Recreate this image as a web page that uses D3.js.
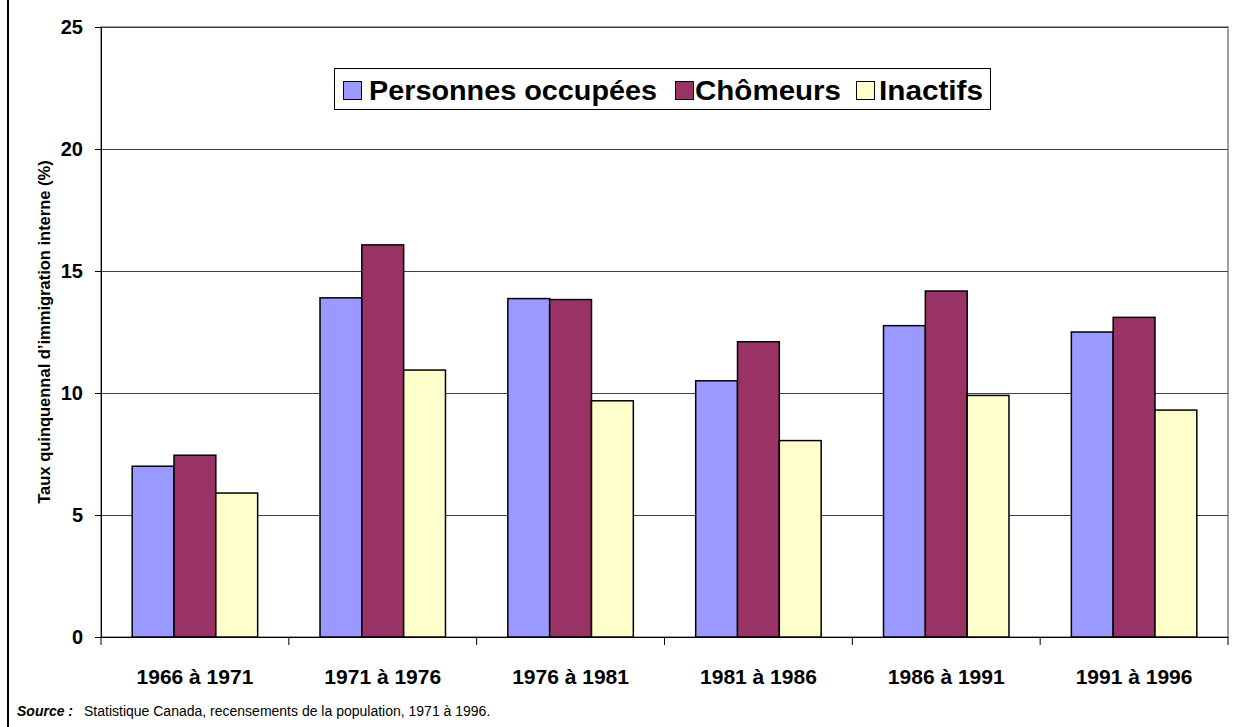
<!DOCTYPE html>
<html>
<meta charset="utf-8">
<head>
    <script src="https://cdnjs.cloudflare.com/ajax/libs/d3/7.8.5/d3.min.js"></script>
</head>
<style>
body {
    margin: 0;
    background: white;
    font-family: "Liberation Sans", Arial, sans-serif;
}
.grid line {
    stroke: #404040;
    stroke-width: 1px;
}
.axis .domain, .axis .tick line {
    stroke: #000;
    stroke-width: 1px;
}
.axis .tick text {
    font-size: 20px;
    font-weight: bold;
    fill: #000;
}
.xaxis .tick text {
    font-size: 21px;
}
.bar {
    stroke: #000;
    stroke-width: 1.5px;
}
</style>

<body>
    <svg id="canvas"></svg>
<script>
// periods (x categories)
var periods = ["1966 à 1971", "1971 à 1976", "1976 à 1981", "1981 à 1986", "1986 à 1991", "1991 à 1996"];
// series names, as in the legend
var seriesNames = ["Personnes occupées", "Chômeurs", "Inactifs"];
// values (%)
var occupees = [7.0, 13.9, 13.87, 10.5, 12.76, 12.5];
var chomeurs = [7.45, 16.07, 13.83, 12.1, 14.18, 13.1];
var inactifs = [5.9, 10.94, 9.68, 8.05, 9.9, 9.3];
var yTicks = [0, 5, 10, 15, 20, 25];

var seriesValues = [occupees, chomeurs, inactifs];
var colors = ["#9999FF", "#993366", "#FFFFCC"];

const W = 1238, H = 727;
const plot = {left: 101, right: 1228, top: 27, bottom: 637};

const svg = d3.select('#canvas')
    .attr('width', W)
    .attr('height', H);

// outer frame (only its left edge falls inside the picture)
svg.append('rect')
    .attr('x', 8).attr('y', -20)
    .attr('width', W + 40).attr('height', H + 40)
    .attr('fill', 'white')
    .attr('stroke', '#000')
    .attr('stroke-width', 2);

// scales
const x0 = d3.scaleBand()
    .domain(periods)
    .range([plot.left, plot.right]);
const x1 = d3.scaleBand()
    .domain(seriesNames)
    .range([x0.bandwidth() * 0.166, x0.bandwidth() * 0.834]);
const y = d3.scaleLinear()
    .domain([0, 25])
    .range([plot.bottom, plot.top]);

// plot area border
svg.append('rect')
    .attr('x', plot.left).attr('y', plot.top)
    .attr('width', plot.right - plot.left)
    .attr('height', plot.bottom - plot.top)
    .attr('fill', 'white')
    .attr('stroke', '#808080')
    .attr('stroke-width', 1.5);

// horizontal gridlines
svg.append('g')
    .classed('grid', true)
    .selectAll('line')
    .data(yTicks.filter(d => d > 0))
    .join('line')
    .attr('x1', plot.left).attr('x2', plot.right)
    .attr('y1', d => Math.round(y(d)) + 0.5)
    .attr('y2', d => Math.round(y(d)) + 0.5);

// bars
var rows = periods.map((p, i) => ({period: p, values: seriesNames.map((s, j) => ({name: s, value: seriesValues[j][i], color: colors[j]}))}));
svg.append('g')
    .selectAll('g')
    .data(rows)
    .join('g')
    .attr('transform', d => `translate(${x0(d.period)},0)`)
    .selectAll('rect')
    .data(d => d.values)
    .join('rect')
    .classed('bar', true)
    .attr('x', d => x1(d.name))
    .attr('width', x1.bandwidth())
    .attr('y', d => y(d.value))
    .attr('height', d => y(0) - y(d.value))
    .attr('fill', d => d.color);

// y axis
svg.append('g')
    .classed('axis', true)
    .attr('transform', `translate(${plot.left},0)`)
    .call(d3.axisLeft(y).tickValues(yTicks).tickSize(6).tickPadding(12).tickSizeOuter(0));

// x axis: ticks sit between categories, labels in the middle
const xAxis = svg.append('g')
    .classed('axis', true)
    .classed('xaxis', true)
    .attr('transform', `translate(0,${plot.bottom})`)
    .call(d3.axisBottom(x0).tickSize(0).tickPadding(32).tickSizeOuter(0));
xAxis.selectAll('.tick line').remove();
xAxis.selectAll('.sep')
    .data(periods.concat(['end']))
    .join('line')
    .attr('x1', (d, i) => plot.left + i * x0.step())
    .attr('x2', (d, i) => plot.left + i * x0.step())
    .attr('y1', 0).attr('y2', 8)
    .attr('stroke', '#000');

// y axis title
svg.append('text')
    .attr('transform', `translate(50,${(plot.top + plot.bottom) / 2}) rotate(-90)`)
    .attr('text-anchor', 'middle')
    .style('font-size', '16.5px')
    .style('font-weight', 'bold')
    .text("Taux quinquennal d’immigration interne (%)");

// legend
const legend = svg.append('g');
legend.append('rect')
    .attr('x', 334.5).attr('y', 68.5)
    .attr('width', 656).attr('height', 41)
    .attr('fill', 'white')
    .attr('stroke', '#000')
    .attr('stroke-width', 1);
var legendItems = [
    {name: seriesNames[0], color: colors[0], sx: 343, tx: 369, tl: 288},
    {name: seriesNames[1], color: colors[1], sx: 675, tx: 695, tl: 146},
    {name: seriesNames[2], color: colors[2], sx: 856, tx: 879, tl: 104}
];
legend.selectAll('.sw')
    .data(legendItems)
    .join('rect')
    .attr('x', d => d.sx + 0.5).attr('y', 81.5)
    .attr('width', 18).attr('height', 18)
    .attr('fill', d => d.color)
    .attr('stroke', '#000');
legend.selectAll('.lt')
    .data(legendItems)
    .join('text')
    .attr('x', d => d.tx).attr('y', 100)
    .attr('textLength', d => d.tl)
    .attr('lengthAdjust', 'spacingAndGlyphs')
    .style('font-size', '27px')
    .style('font-weight', 'bold')
    .text(d => d.name);

// source note
const src = svg.append('text')
    .attr('x', 17).attr('y', 716)
    .style('font-size', '14px');
src.append('tspan')
    .style('font-weight', 'bold')
    .style('font-style', 'italic')
    .text('Source :');
src.append('tspan')
    .attr('x', 84)
    .text('Statistique Canada, recensements de la population, 1971 à 1996.');
</script>

</body>
</html>
